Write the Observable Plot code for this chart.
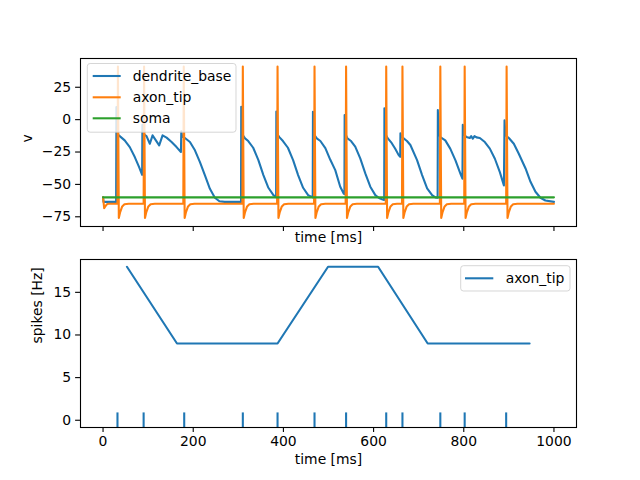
<!DOCTYPE html>
<html><head><meta charset="utf-8">
<script src="https://cdn.jsdelivr.net/npm/d3@7"></script>
<script src="https://cdn.jsdelivr.net/npm/@observablehq/plot@0.6"></script>
<style>
body{margin:0;background:#fff;}
#fig{position:relative;width:640px;height:480px;font-family:"DejaVu Sans",sans-serif;}
#fig > svg{position:absolute;left:0;}
</style></head><body><div id="fig"></div>
<script>
const seriesNames = ["dendrite_base", "axon_tip", "soma"];
const seriesColors = ["#1f77b4", "#ff7f0e", "#2ca02c"];

// [time ms, v]
const dendriteBase = [
[0,-60],[1,-63.5],[29,-63.5],[29.7,9.7],[31,-11],[37,-12.7],[48,-16],[59.3,-21.2],[70.4,-28.9],[80,-36.7],[86.7,-42.6],
[87.3,-4],[89,-11],[96.4,-12.7],[103.8,-18.6],[109.8,-12.1],[124.5,-19.9],[132,-12.1],[140.9,-13.9],[152,-17.3],[163,-21.2],[172.7,-25],
[173.5,-9],[175.5,-13],[181.6,-14.2],[192.7,-17.3],[203.8,-23.7],[214.9,-32.8],[226,-43.1],[237,-53.4],[248,-60.3],[258,-63],[270,-63.5],[306,-63.5],
[306.5,10],[308,-11],[314.9,-14.5],[322,-16.5],[333,-21.7],[344.5,-31.2],[355.6,-42.8],[366.7,-52.6],[377.8,-58.3],[383.8,-59.8],
[384.3,6.2],[386,-11],[391,-13.5],[399,-16.5],[410,-21.7],[421.5,-31.2],[432.6,-42.8],[443.7,-52.6],[454.8,-58.3],[465,-60],
[465.5,6],[467,-11],[474,-14.5],[482,-16.5],[493,-22],[504,-31],[515,-39],[526,-51.8],[533.6,-57],[535.3,-57.5],
[535.8,3.6],[537.5,-11],[542,-14.5],[550,-16.5],[559.3,-20.9],[570.4,-29.9],[581.6,-41.5],[592.7,-51.8],[603.8,-58.3],[612,-60.5],[618.7,-61.4],[623.5,-62],
[624,8.7],[626,-11],[631.6,-14.5],[640,-18],[648,-22.5],[655.6,-27.4],[659,-28.7],
[659.5,-10.6],[661,-13],[666.7,-14.5],[674,-16.5],[681.6,-19.6],[696.4,-31.2],[707.6,-42.8],[718.7,-53.1],[729.8,-58.3],[737,-60],[742,-60.3],
[742.5,7.4],[744.5,-11],[748,-13.5],[759,-16],[770,-22.4],[781.6,-31.5],[792.7,-41.8],[797,-45.6],
[797.8,-3.9],[800,-11.5],[806,-13.4],[813.3,-14.2],[816.4,-12.7],[820,-14.7],[823.8,-12.7],[828.2,-13.7],[835.6,-14.2],[846.7,-17.3],[857.8,-22.4],[869,-30.2],[880,-40.5],[889,-50.8],
[890.4,-0.5],[892.5,-12],[900,-14.2],[911,-18.6],[922,-26.3],[937,-37.7],[948,-48],[959,-55.7],[970,-60.3],[981,-62.4],[1000,-63.5]
];

const axonTip = [
[0,-60],[2.5,-68.3],[5,-67],[8,-65.5],[11,-65],
[32,-65],[33,41],[35,-76],[38,-71.4],[42.5,-67],[47.5,-65.3],[57,-65],
[90,-65],[91,41],[93,-76],[96,-71.4],[100.5,-67],[105.5,-65.3],[115,-65],
[178,-65],[179,41],[181,-76],[184,-71.4],[188.5,-67],[193.5,-65.3],[203,-65],
[309,-65],[310,41],[312,-76],[315,-71.4],[319.5,-67],[324.5,-65.3],[334,-65],
[386,-65],[387,41],[389,-76],[392,-71.4],[396.5,-67],[401.5,-65.3],[411,-65],
[468,-65],[469,41],[471,-76],[474,-71.4],[478.5,-67],[483.5,-65.3],[493,-65],
[538,-65],[539,41],[541,-76],[544,-71.4],[548.5,-67],[553.5,-65.3],[563,-65],
[627,-65],[628,41],[630,-76],[633,-71.4],[637.5,-67],[642.5,-65.3],[652,-65],
[663,-65],[664,41],[666,-76],[669,-71.4],[673.5,-67],[678.5,-65.3],[688,-65],
[747,-65],[748,41],[750,-76],[753,-71.4],[757.5,-67],[762.5,-65.3],[772,-65],
[801,-65],[802,41],[804,-76],[807,-71.4],[811.5,-67],[816.5,-65.3],[826,-65],
[894,-65],[895,41],[897,-76],[900,-71.4],[904.5,-67],[909.5,-65.3],[919,-65],
[1000,-65]
];

const soma = [[0,-60],[1000,-60]];

const spikeTimes = [32, 90, 180, 310, 387, 469, 539, 628, 664, 748, 802, 894];
const rateTimes = [53, 164, 387, 499, 610, 720, 946];
const rateValues = [18, 9, 9, 18, 18, 9, 9];
const rateName = "axon_tip";

const xTicks = [0, 200, 400, 600, 800, 1000];
const vTicks = [-75, -50, -25, 0, 25];
const rateTicks = [0, 5, 10, 15];

const FS = 13.9;
const LW = 2.08;
const fig = document.getElementById("fig");
const fmt = d3.format("d");

const rows = [];
[dendriteBase, axonTip, soma].forEach((arr, i) => arr.forEach(([t, v]) => rows.push({t, v, s: seriesNames[i]})));

const p1 = Plot.plot({
  width: 640, height: 255,
  marginLeft: 80, marginRight: 64, marginTop: 58, marginBottom: 29,
  style: {fontFamily: "DejaVu Sans", fontSize: FS + "px", background: "transparent", overflow: "visible"},
  x: {domain: [-50, 1050]},
  y: {domain: [-82.5, 47.2]},
  color: {domain: seriesNames, range: seriesColors},
  marks: [
    Plot.line(rows, {x: "t", y: "v", z: "s", stroke: "s", strokeWidth: LW, clip: true}),
    Plot.frame({stroke: "black", strokeWidth: 1.1}),
    Plot.axisX({ticks: xTicks, tickSize: 4.9, tickFormat: () => "", label: null, strokeWidth: 1.1}),
    Plot.axisY({ticks: vTicks, tickSize: 4.9, tickPadding: 4.5, tickFormat: fmt, label: null, strokeWidth: 1.1, fontSize: FS}),
    Plot.text(["time [ms]"], {frameAnchor: "bottom", dy: 15, text: d => d, fontSize: FS, fill: "black"}),
    Plot.text(["v"], {frameAnchor: "left", dx: -52.5, rotate: -90, text: d => d, fontSize: FS, fill: "black"})
  ]
});
p1.style.top = "0px";
fig.appendChild(p1);

const rateRows = rateTimes.map((t, i) => ({t, r: rateValues[i]}));
const p2 = Plot.plot({
  width: 640, height: 225,
  marginLeft: 80, marginRight: 64, marginTop: 4, marginBottom: 53,
  style: {fontFamily: "DejaVu Sans", fontSize: FS + "px", background: "transparent", overflow: "visible"},
  x: {domain: [-50, 1050]},
  y: {domain: [-0.85, 18.85]},
  marks: [
    Plot.line(rateRows, {x: "t", y: "r", stroke: seriesColors[0], strokeWidth: LW}),
    Plot.ruleX(spikeTimes, {x: d => d, y1: -0.85, y2: 0.86, stroke: seriesColors[0], strokeWidth: LW}),
    Plot.frame({stroke: "black", strokeWidth: 1.1}),
    Plot.axisX({ticks: xTicks, tickSize: 4.9, tickPadding: 4, tickFormat: fmt, label: null, strokeWidth: 1.1, fontSize: FS}),
    Plot.axisY({ticks: rateTicks, tickSize: 4.9, tickPadding: 4.5, tickFormat: fmt, label: null, strokeWidth: 1.1, fontSize: FS}),
    Plot.text(["time [ms]"], {frameAnchor: "bottom", dy: 36, text: d => d, fontSize: FS, fill: "black"}),
    Plot.text(["spikes [Hz]"], {frameAnchor: "left", dx: -43, rotate: -90, text: d => d, fontSize: FS, fill: "black"})
  ]
});
p2.style.top = "255px";
fig.appendChild(p2);

// legends (matplotlib style boxes)
const ns = "http://www.w3.org/2000/svg";
const leg = document.createElementNS(ns, "svg");
leg.setAttribute("width", 640); leg.setAttribute("height", 480);
leg.style.top = "0px"; leg.style.pointerEvents = "none";
function el(name, attrs, text) {
  const e = document.createElementNS(ns, name);
  for (const k in attrs) e.setAttribute(k, attrs[k]);
  if (text) e.textContent = text;
  leg.appendChild(e);
  return e;
}
function legendBox(x, y, w, h, names, colors, rowY, lineX0, lineX1, textX) {
  el("rect", {x, y, width: w, height: h, rx: 2.8, fill: "white", "fill-opacity": 0.8, stroke: "#cccccc", "stroke-opacity": 0.8, "stroke-width": 1});
  names.forEach((n, i) => {
    el("line", {x1: lineX0, x2: lineX1, y1: rowY[i], y2: rowY[i], stroke: colors[i], "stroke-width": LW});
    el("text", {x: textX, y: rowY[i], "dominant-baseline": "central", "font-family": "DejaVu Sans", "font-size": FS, fill: "black"}, n);
  });
}
legendBox(87.3, 63.5, 148.7, 68.7, seriesNames, seriesColors, [76, 97.3, 118.3], 92.7, 120.7, 132.7);
legendBox(460.7, 265.7, 109.3, 25.3, [rateName], [seriesColors[0]], [278.3], 465, 493.3, 505.7);
fig.appendChild(leg);
</script>
</body></html>
